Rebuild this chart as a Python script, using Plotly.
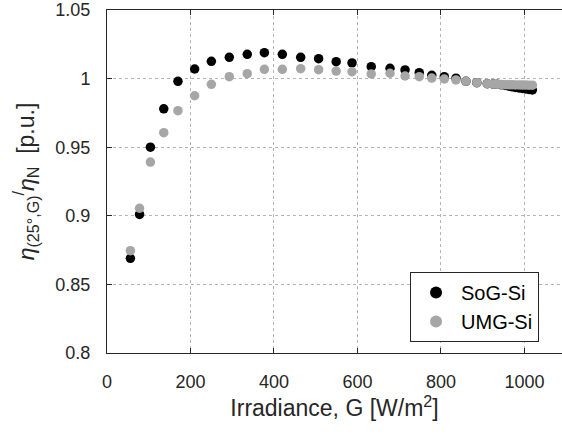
import plotly.graph_objects as go

irradiance = [56, 78, 104, 136, 170, 210, 250, 293, 336, 377, 420, 464, 507, 549, 587,
              633, 678, 714, 748, 778, 808, 836, 860, 886, 911, 925, 935, 945, 955, 963,
              971, 979, 987, 995, 1003, 1011, 1019]
sog_si = [0.869, 0.901, 0.950, 0.978, 0.998, 1.007, 1.0126, 1.0155, 1.0177, 1.0189, 1.0177,
          1.0155, 1.0145, 1.0123, 1.0114, 1.0087, 1.0075, 1.0063, 1.0043, 1.0024, 1.0014,
          1.0003, 0.998, 0.997, 0.9963, 0.996, 0.9958, 0.9955, 0.995, 0.9945, 0.994,
          0.9936, 0.9932, 0.9928, 0.9925, 0.9921, 0.9917]
umg_si = [0.8746, 0.9055, 0.9392, 0.9606, 0.9766, 0.9875, 0.9958, 1.0014, 1.0036, 1.0068,
          1.0068, 1.0072, 1.0065, 1.0055, 1.005, 1.0034, 1.0039, 1.0019, 1.0014, 1.0004,
          0.9997, 0.999, 0.998, 0.997, 0.9963, 0.996, 0.9958, 0.9957, 0.9956, 0.9955,
          0.9955, 0.9954, 0.9954, 0.9953, 0.9953, 0.9952, 0.9952]
x_ticks = [0, 200, 400, 600, 800, 1000]
y_ticks = [0.8, 0.85, 0.9, 0.95, 1, 1.05]
y_tick_labels = ["0.8", "0.85", "0.9", "0.95", "1", "1.05"]

FONT = "Liberation Sans, Arial, Helvetica, sans-serif"
AX = "#262626"

fig = go.Figure()
fig.add_trace(go.Scatter(x=irradiance, y=sog_si, mode="markers", name="SoG-Si",
                         marker=dict(color="#000000", size=9.5, line=dict(width=0))))
fig.add_trace(go.Scatter(x=irradiance, y=umg_si, mode="markers", name="UMG-Si",
                         marker=dict(color="#a6a6a6", size=9.5, line=dict(width=0))))

fig.update_layout(
    width=562, height=437,
    margin=dict(l=107, r=0, t=10, b=84, autoexpand=False),
    paper_bgcolor="white", plot_bgcolor="white",
    font=dict(family=FONT, color=AX, size=18),
    showlegend=True,
    legend=dict(x=0.666, y=0.236, xanchor="left", yanchor="top",
                bgcolor="white", bordercolor="#262626", borderwidth=1,
                font=dict(size=20, color="#000000"), itemsizing="constant",
                tracegroupgap=0, itemwidth=40),
)
fig.update_xaxes(
    range=[0, 1090], tickvals=x_ticks, ticks="inside", ticklen=5, tickcolor=AX,
    showline=True, linecolor=AX, linewidth=1, mirror="ticks",
    showgrid=True, gridcolor="#b4b4b4", griddash="dot", gridwidth=1,
    zeroline=False, tickfont=dict(size=18), ticklabelstandoff=12,
    title=dict(text="Irradiance, G [W/m<sup>2</sup>]", font=dict(size=23), standoff=4),
)
fig.update_yaxes(
    range=[0.8, 1.05], tickvals=y_ticks, ticktext=y_tick_labels, ticks="inside", ticklen=5,
    tickcolor=AX, showline=True, linecolor=AX, linewidth=1, mirror=False,
    showgrid=True, gridcolor="#b4b4b4", griddash="dot", gridwidth=1,
    zeroline=False, tickfont=dict(size=18), ticklabelstandoff=12,
    title=dict(text="<i>η</i><sub>(25°,G)</sub><sup>/</sup><i>η</i><sub>N</sub>  [p.u.]",
               font=dict(size=23), standoff=14),
)

div = fig.to_html(full_html=False, include_plotlyjs=True,
                  config={"displayModeBar": False})
html = ("<!DOCTYPE html><html><head><meta charset='utf-8'>"
        "<style>html,body{margin:0;padding:0;overflow:hidden;background:white;}</style>"
        "</head><body>" + div + "</body></html>")
with open("out.html", "w", encoding="utf-8") as f:
    f.write(html)
